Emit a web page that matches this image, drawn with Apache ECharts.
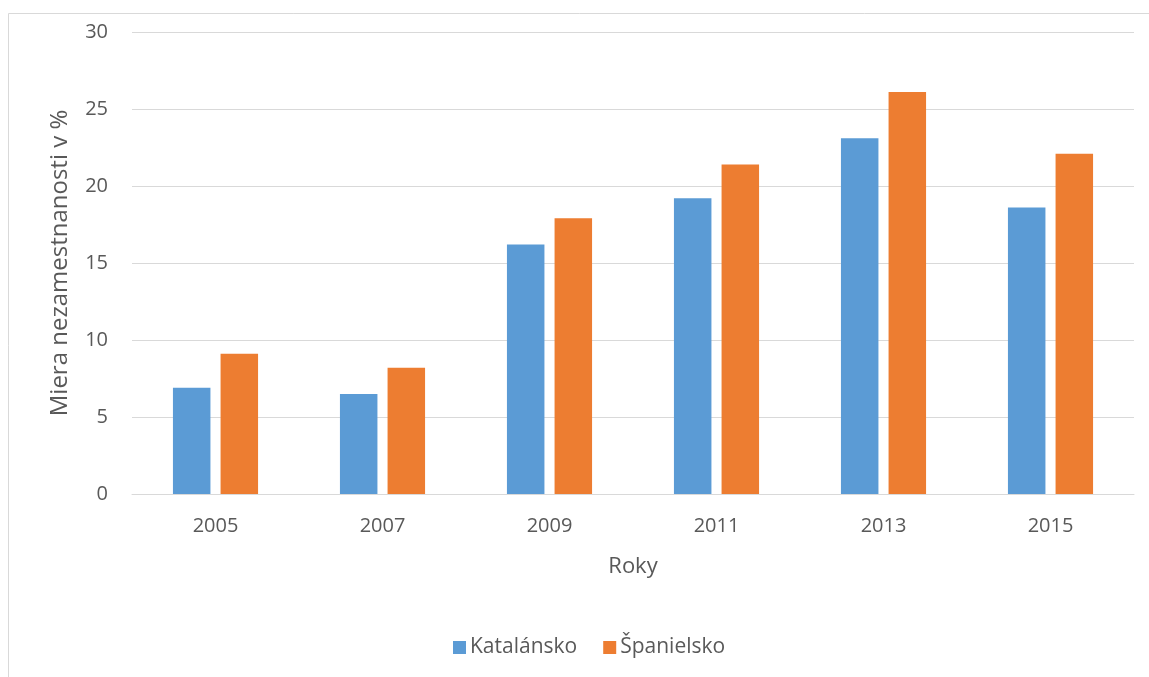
<!DOCTYPE html>
<html>
<head>
<meta charset="utf-8">
<script src="https://cdn.jsdelivr.net/npm/echarts@6/dist/echarts.min.js"></script>
<style>
html,body{margin:0;padding:0;background:#fff;}
#c{width:1149px;height:677px;}
</style>
</head>
<body>
<div id="c"></div>
<script>
const categories = ['2005', '2007', '2009', '2011', '2013', '2015'];
const katalansko = [6.9, 6.5, 16.2, 19.2, 23.1, 18.6];
const spanielsko = [9.1, 8.2, 17.9, 21.4, 26.1, 22.1];
const yTicks = { min: 0, max: 30, interval: 5 };

const FONT = '"Open Sans", sans-serif';
const TXT = '#595959';
const chart = echarts.init(document.getElementById('c'), null, { renderer: 'canvas' });
chart.setOption({
  backgroundColor: '#ffffff',
  animation: false,
  textStyle: { fontFamily: FONT, color: TXT },
  graphic: [{
    type: 'rect',
    shape: { x: 8.5, y: 13.5, width: 1200, height: 700 },
    style: { fill: 'none', stroke: '#D9D9D9', lineWidth: 1 },
    silent: true
  }],
  grid: { left: 132, right: 15, top: 32, bottom: 183, containLabel: false },
  legend: {
    left: 453, top: 637, padding: 0,
    itemWidth: 13, itemHeight: 13, itemGap: 26,
    icon: 'rect',
    textStyle: { fontFamily: FONT, fontSize: 21, color: TXT, padding: [0, 0, 0, -1] },
    data: ['Katalánsko', 'Španielsko']
  },
  xAxis: {
    type: 'category',
    data: categories,
    name: 'Roky',
    nameLocation: 'middle',
    nameGap: 62,
    nameTextStyle: { fontFamily: FONT, fontSize: 22, color: TXT },
    axisLine: { show: true, lineStyle: { color: '#D9D9D9', width: 1 } },
    axisTick: { show: false },
    axisLabel: { fontFamily: FONT, fontSize: 20, color: TXT, margin: 22 },
    splitLine: { show: false }
  },
  yAxis: {
    type: 'value',
    min: yTicks.min, max: yTicks.max, interval: yTicks.interval,
    name: 'Miera nezamestnanosti v %',
    nameLocation: 'middle',
    nameRotate: 90,
    nameGap: 60,
    nameTextStyle: { fontFamily: FONT, fontSize: 24, color: TXT },
    axisLine: { show: false },
    axisTick: { show: false },
    axisLabel: { fontFamily: FONT, fontSize: 20, color: TXT, margin: 24 },
    splitLine: { show: true, lineStyle: { color: '#D9D9D9', width: 1 } }
  },
  series: [
    { name: 'Katalánsko', type: 'bar', data: katalansko, barWidth: 37.5, barGap: '27%',
      itemStyle: { color: '#5B9BD5' } },
    { name: 'Španielsko', type: 'bar', data: spanielsko, barWidth: 37.5, barGap: '27%',
      itemStyle: { color: '#ED7D31' } }
  ]
});
</script>
</body>
</html>
